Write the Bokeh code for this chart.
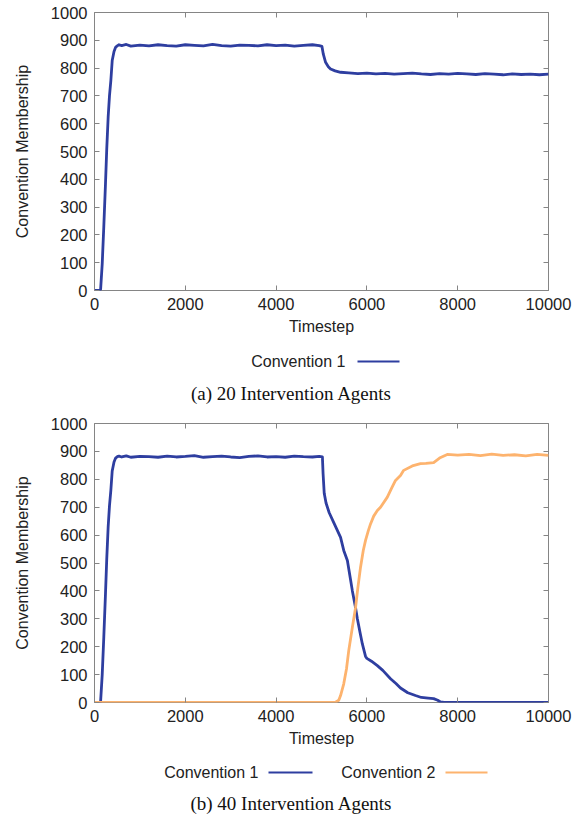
from bokeh.plotting import figure
from bokeh.layouts import column
from bokeh.models import LinearAxis, FixedTicker, Range1d
from bokeh.core.properties import value
from bokeh.embed import file_html
from bokeh.resources import INLINE

# ---- data -----------------------------------------------------------------
# (a) 20 intervention agents: membership of convention 1 over time
t_a = [0, 120, 135, 170, 205, 242, 270, 301, 330, 360,
       390, 430, 465, 500, 540, 600, 700, 800, 1000,
       1200, 1400, 1600, 1800, 2000, 2200, 2400, 2600, 2800, 3000,
       3200, 3400, 3600, 3800, 4000, 4200, 4400, 4600, 4800,
       4950, 5010, 5040, 5090, 5150, 5200, 5300, 5420, 5600,
       5800, 6000, 6200, 6400, 6600, 6800, 7000, 7200, 7400, 7600, 7800,
       8000, 8200, 8400, 8600, 8800, 9000, 9200, 9400, 9600, 9800, 10000]
conv1_a = [0, 0, 5, 96, 230, 384, 510, 624, 700, 755,
           827, 860, 875, 880, 884, 881, 885, 879, 883,
           880, 884, 881, 879, 884, 882, 880, 885, 881, 879,
           883, 882, 880, 884, 881, 883, 879, 882, 884,
           881, 878, 850, 821, 805, 797, 790, 785, 783,
           780, 782, 779, 781, 778, 780, 782, 779, 777, 780, 778,
           781, 779, 777, 780, 778, 776, 779, 777, 778, 776, 778]

# (b) 40 intervention agents: convention 1
t_b1 = [0, 120, 135, 170, 205, 242, 270, 301, 330, 360,
        390, 430, 465, 500, 540, 600, 700, 800, 1000,
        1200, 1400, 1600, 1800, 2000, 2200, 2400, 2600, 2800, 3000,
        3200, 3400, 3600, 3800, 4000, 4200, 4400, 4600, 4800,
        4950, 5020, 5035, 5060, 5100, 5170, 5270, 5420, 5490, 5570,
        5640, 5680, 5750, 5790, 5850, 5900, 5970, 6000, 6100, 6230,
        6350, 6520, 6640, 6740, 6900, 7070, 7200, 7350, 7470, 7560,
        7620, 7700, 8000, 8500, 9000, 9500, 10000]
conv1_b = [0, 0, 5, 100, 235, 390, 515, 630, 705, 760,
           830, 862, 876, 881, 883, 880, 884, 879, 882,
           881, 879, 883, 880, 882, 885, 879, 881, 883, 880,
           878, 882, 884, 880, 881, 879, 883, 881, 880,
           882, 880, 820, 750, 715, 680, 645, 592, 545, 509,
           440, 400, 340, 300, 250, 210, 165, 158, 148, 132,
           115, 85, 68, 52, 35, 25, 18, 16, 14, 8,
           2, 0, 0, 0, 0, 0, 0]

# (b) 40 intervention agents: convention 2
t_b2 = [0, 5300, 5380, 5420, 5490, 5550, 5600, 5680, 5750, 5800,
        5860, 5920, 5970, 6030, 6080, 6150, 6230, 6300, 6450, 6550,
        6630, 6740, 6810, 7000, 7180, 7300, 7470, 7600, 7770, 8000,
        8250, 8500, 8750, 9000, 9250, 9500, 9750, 10000]
conv2_b = [0, 0, 8, 25, 67, 120, 186, 270, 340, 410,
           485, 545, 581, 615, 640, 668, 688, 700, 736, 770,
           796, 814, 832, 848, 856, 857, 860, 876, 889, 887,
           889, 885, 890, 886, 888, 884, 889, 886]

x_ticks = [0, 2000, 4000, 6000, 8000, 10000]
y_ticks = [0, 100, 200, 300, 400, 500, 600, 700, 800, 900, 1000]

BLUE = "#2e3ea0"
ORANGE = "#fdb36e"
FRAME = "#858585"
SANS = "Liberation Sans"
SERIF = "Liberation Serif"
TICK_FS = "16.5px"
LABEL_FS = "16px"
W = 582
LEFT, RIGHT = 94, 34          # plot-frame margins shared by every row


def style_axis(ax, ticks, labelled):
    ax.ticker = FixedTicker(ticks=ticks)
    ax.axis_line_color = None
    ax.major_tick_in = 5
    ax.major_tick_out = 0
    ax.minor_tick_in = 0
    ax.minor_tick_out = 0
    ax.major_tick_line_color = FRAME
    ax.major_tick_line_width = 1
    if labelled:
        ax.major_label_text_font = SANS
        ax.major_label_text_font_size = TICK_FS
        ax.major_label_text_color = "#222222"
        ax.major_label_standoff = 7
        ax.axis_label_text_font = SANS
        ax.axis_label_text_font_size = LABEL_FS
        ax.axis_label_text_font_style = "normal"
        ax.axis_label_text_color = "#222222"
    else:
        ax.major_label_overrides = {t: "" for t in ticks}
        ax.major_label_text_font_size = "1px"
        ax.major_label_standoff = 0


def make_panel(height, top, bottom, series):
    p = figure(width=W, height=height, output_backend="svg", toolbar_location=None,
               x_range=Range1d(0, 10000), y_range=Range1d(0, 1000),
               min_border_left=LEFT, min_border_right=RIGHT,
               min_border_top=top, min_border_bottom=bottom)
    p.xgrid.visible = False
    p.ygrid.visible = False
    p.outline_line_color = FRAME
    p.outline_line_width = 1
    p.background_fill_color = "white"
    p.border_fill_color = "white"

    style_axis(p.xaxis[0], x_ticks, True)
    style_axis(p.yaxis[0], y_ticks, True)
    p.xaxis[0].axis_label = "Timestep"
    p.xaxis[0].axis_label_standoff = 5
    p.yaxis[0].axis_label = "Convention Membership"
    p.yaxis[0].axis_label_standoff = 17

    top_ax = LinearAxis()
    style_axis(top_ax, x_ticks, False)
    p.add_layout(top_ax, "above")
    right_ax = LinearAxis()
    style_axis(right_ax, y_ticks, False)
    p.add_layout(right_ax, "right")

    for xs, ys, col in series:
        p.line(xs, ys, line_color=col, line_width=2.8, line_join="round")
    return p


def make_key(height, entries, caption, key_y, cap_y):
    # x data units equal page pixels (the frame is aligned with the panels above)
    k = figure(width=W, height=height, output_backend="svg", toolbar_location=None,
               x_range=Range1d(LEFT, W - RIGHT), y_range=Range1d(0, height),
               min_border_left=LEFT, min_border_right=RIGHT,
               min_border_top=0, min_border_bottom=0)
    k.axis.visible = False
    k.grid.visible = False
    k.outline_line_color = None
    k.border_fill_color = "white"
    for label, text_right, x0, x1, col in entries:
        k.text(x=[text_right], y=[key_y], text=[label], text_align="right",
               text_baseline="middle", text_font=value(SANS), text_font_size=LABEL_FS,
               text_color="#222222")
        k.line([x0, x1], [key_y, key_y], line_color=col, line_width=1.8)
    k.text(x=[W / 2], y=[cap_y], text=[caption], text_align="center",
           text_baseline="middle", text_font=value(SERIF), text_font_size="19px",
           text_color="#111111")
    return k


panel_a = make_panel(340, 12, 50, [(t_a, conv1_a, BLUE)])
key_a = make_key(68, [("Convention 1", 345, 357, 399, BLUE)],
                 "(a) 20 Intervention Agents", 47, 15)
panel_b = make_panel(344, 15, 50, [(t_b1, conv1_b, BLUE), (t_b2, conv2_b, ORANGE)])
key_b = make_key(65, [("Convention 1", 258, 268, 312, BLUE),
                      ("Convention 2", 435, 445, 487, ORANGE)],
                 "(b) 40 Intervention Agents", 45, 14)

page = column(panel_a, key_a, panel_b, key_b, spacing=0)
open("out.html", "w").write(file_html(page, INLINE))
